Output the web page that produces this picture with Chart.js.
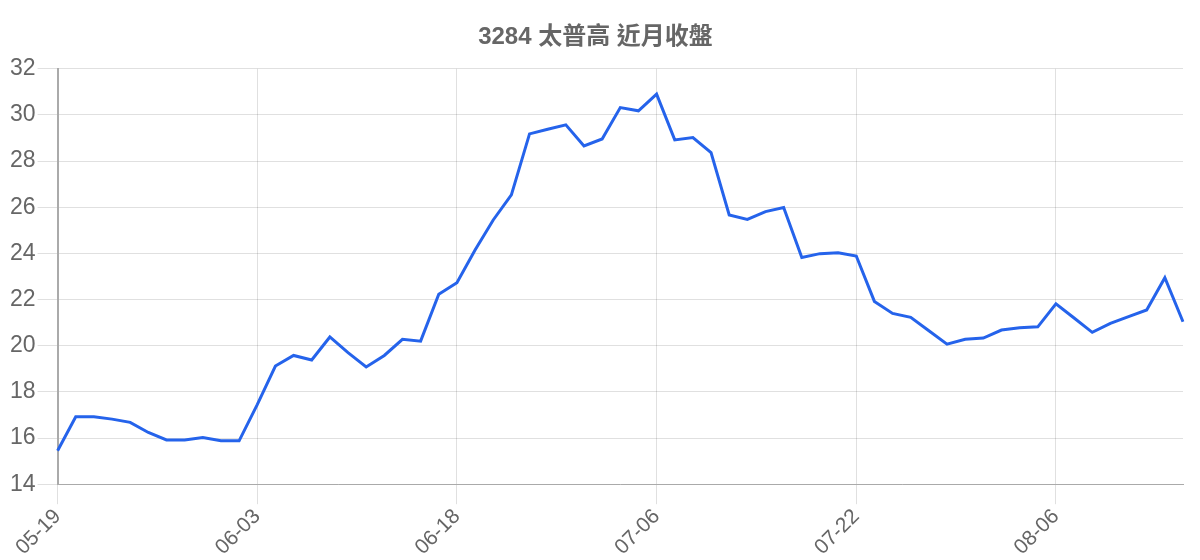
<!DOCTYPE html>
<html>
<head>
<meta charset="utf-8">
<script src="https://cdn.jsdelivr.net/npm/chart.js@4"></script>
<style>
  html, body { margin: 0; padding: 0; background: #fff; }
  #wrap { width: 1200px; height: 560px; }
</style>
</head>
<body>
<div id="wrap"><canvas id="priceChart"></canvas></div>
<script>
const dates = [
    '05-19', '05-20', '05-21', '05-22', '05-23', '05-26', '05-27', '05-28', '05-29', '05-30', '06-02',
    '06-03', '06-04', '06-05', '06-06', '06-09', '06-10', '06-11', '06-12', '06-13', '06-16', '06-17',
    '06-18', '06-19', '06-20', '06-23', '06-24', '06-25', '06-26', '06-27', '06-30', '07-01', '07-03',
    '07-06', '07-07', '07-08', '07-09', '07-10', '07-13', '07-14', '07-15', '07-16', '07-17', '07-20',
    '07-22', '07-23', '07-24', '07-27', '07-28', '07-29', '07-30', '07-31', '08-03', '08-04', '08-05',
    '08-06', '08-07', '08-10', '08-11', '08-12', '08-13', '08-14', '08-17',
];

const closes = [
    15.45, 16.92, 16.92, 16.82, 16.68, 16.24, 15.92, 15.92, 16.02, 15.88, 15.88,
    17.45, 19.12, 19.58, 19.38, 20.38, 19.70, 19.08, 19.58, 20.28, 20.20, 22.23,
    22.73, 24.15, 25.45, 26.54, 29.18, 29.38, 29.57, 28.66, 28.96, 30.32, 30.18,
    30.90, 28.92, 29.02, 28.37, 25.67, 25.47, 25.81, 25.99, 23.82, 23.99, 24.03,
    23.89, 21.92, 21.40, 21.23, 20.65, 20.07, 20.28, 20.33, 20.68, 20.78, 20.82,
    21.82, 21.20, 20.58, 20.97, 21.26, 21.55, 22.95, 21.04,
];

const labelEvery = 11;

Chart.defaults.font.family = '"Liberation Sans", Arial, "Noto Sans CJK TC", sans-serif';
Chart.defaults.color = '#666';

new Chart(document.getElementById('priceChart'), {
    type: 'line',
    data: {
        labels: dates,
        datasets: [
            {
                label: '收盤',
                data: closes,
                borderColor: '#2563eb',
                borderWidth: 3,
                pointRadius: 0,
                tension: 0,
            },
        ],
    },
    options: {
        responsive: true,
        maintainAspectRatio: false,
        animation: false,
        layout: { padding: { left: 8, right: 17, top: 2 } },
        plugins: {
            legend: { display: false },
            title: {
                display: true,
                text: '3284 太普高 近月收盤',
                font: { size: 24, weight: 'bold' },
                color: '#666',
                padding: { top: 21, bottom: 17 },
            },
            tooltip: { enabled: false },
        },
        scales: {
            x: {
                grid: { color: 'rgba(0,0,0,0.12)', tickLength: 20 },
                border: { color: '#aaa' },
                ticks: {
                    autoSkip: false,
                    maxRotation: 45,
                    minRotation: 45,
                    font: { size: 21 },
                    padding: 0,
                    callback: (v, i) => (i % labelEvery === 0 ? dates[i] : null),
                },
            },
            y: {
                min: 14,
                max: 32,
                grid: { color: 'rgba(0,0,0,0.12)', tickLength: 20 },
                border: { color: '#aaa', width: 2 },
                ticks: { stepSize: 2, font: { size: 23 }, padding: 2 },
            },
        },
    },
});
</script>
</body>
</html>
